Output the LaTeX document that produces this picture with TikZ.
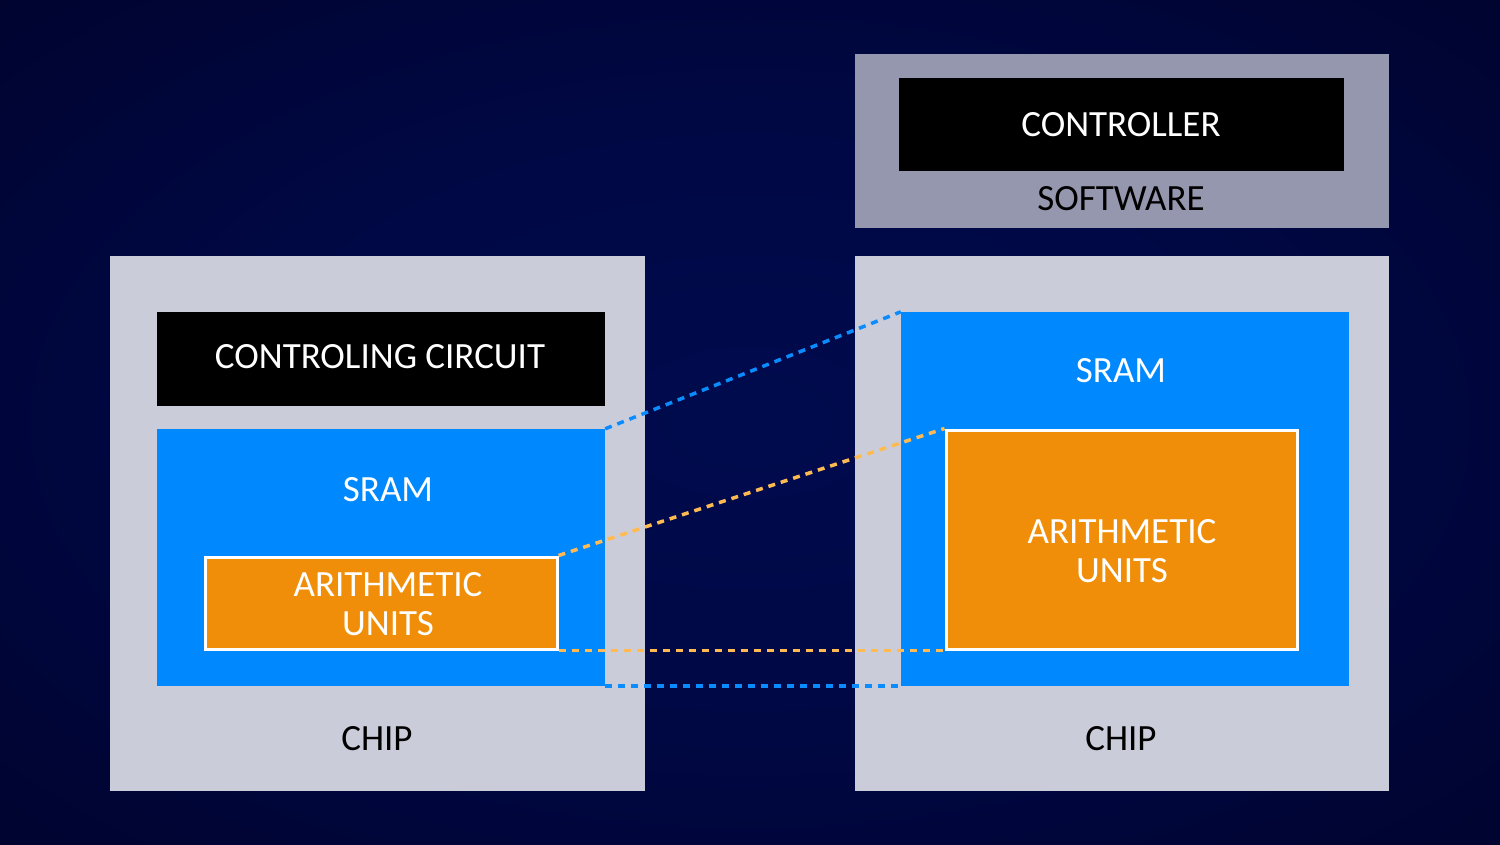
\documentclass[tikz,border=0pt]{standalone}
\usepackage{fontspec}
\setmainfont{Carlito}
\definecolor{bgA}{HTML}{000B4E}
\definecolor{bgB}{HTML}{000844}
\definecolor{bgC}{HTML}{00032C}
\definecolor{bgD}{HTML}{000016}
\definecolor{chipgray}{HTML}{CBCCD9}
\definecolor{softgray}{HTML}{9597AE}
\definecolor{sramblue}{HTML}{0088FF}
\definecolor{auorange}{HTML}{F08E09}
\definecolor{dashblue}{HTML}{0A8CFF}
\definecolor{dashorange}{HTML}{FFBB52}
\pgfdeclareradialshading{bgshade}{\pgfpoint{0bp}{0bp}}{color(0bp)=(bgA); color(18bp)=(bgB); color(38bp)=(bgC); color(66bp)=(bgD)}
\tikzset{
  chipbox/.style={fill=chipgray, inner sep=0pt},
  softbox/.style={fill=softgray, inner sep=0pt},
  blackbox/.style={fill=black, inner sep=0pt},
  srambox/.style={fill=sramblue, inner sep=0pt},
  aubox/.style={fill=auorange, draw=white, line width=3pt, inner sep=0pt},
  lbl/.style={font=\fontsize{37}{39}\selectfont, inner sep=0pt, anchor=base, align=center},
  bluedash/.style={draw=dashblue, line width=3.5pt, dash pattern=on 7pt off 6pt},
  orangedash/.style={draw=dashorange, line width=3.5pt, dash pattern=on 7pt off 6pt},
}
\begin{document}
\begin{tikzpicture}[x=1pt,y=-1pt]
\useasboundingbox (0,0) rectangle (1500,844);
\shade[shading=bgshade] (0,0) rectangle (1500,844);
% left chip
\node[chipbox, minimum width=535pt, minimum height=535pt] (chipL) at (377.5,523.5) {};
\node[blackbox, minimum width=448pt, minimum height=94pt] (ctrlL) at (381,359) {};
\node[srambox, minimum width=448pt, minimum height=257pt] (sramL) at (381,557.5) {};
\node[aubox, minimum width=352pt, minimum height=92pt] (auL) at (381,603) {};
% right side
\node[softbox, minimum width=534pt, minimum height=174pt] (soft) at (1122,141) {};
\node[blackbox, minimum width=445pt, minimum height=93pt] (ctrlR) at (1121.5,124.5) {};
\node[chipbox, minimum width=534pt, minimum height=535pt] (chipR) at (1122,523.5) {};
\node[srambox, minimum width=448pt, minimum height=374pt] (sramR) at (1125,499) {};
\node[aubox, minimum width=351pt, minimum height=219pt] (auR) at (1121.5,539.5) {};
% dashed connectors
\draw[bluedash] (sramL.north east) -- (sramR.north west);
\draw[bluedash] (sramL.south east) -- (sramR.south west);
\draw[orangedash] (auL.north east) -- (auR.north west);
\draw[orangedash] (auL.south east) -- (auR.south west);
% labels
\node[lbl, text=white] (tCtrlL) at (380,368.5) {CONTROLING CIRCUIT};
\node[lbl, text=white] (tSramL) at (388,501) {SRAM};
\node[lbl, text=white] (tAuL) at (388,635) {ARITHMETIC\\UNITS};
\node[lbl, text=black] (tChipL) at (377,750) {CHIP};
\node[lbl, text=white] (tCtrlR) at (1121,136.5) {CONTROLLER};
\node[lbl, text=black] (tSoft) at (1121,210.5) {SOFTWARE};
\node[lbl, text=white] (tSramR) at (1121,382.5) {SRAM};
\node[lbl, text=white] (tAuR) at (1122,582) {ARITHMETIC\\UNITS};
\node[lbl, text=black] (tChipR) at (1121,750) {CHIP};
\end{tikzpicture}
\end{document}
